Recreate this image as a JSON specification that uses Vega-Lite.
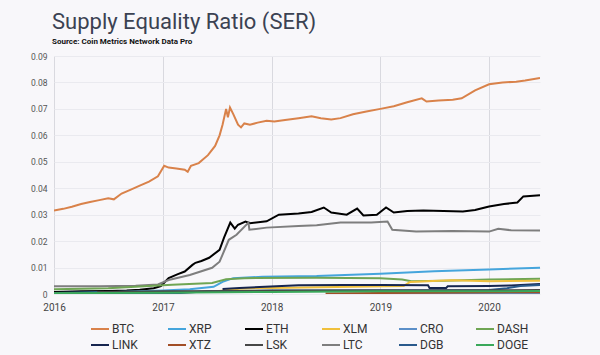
{
  "$schema": "https://vega.github.io/schema/vega-lite/v6.json",
  "autosize": {"type": "none"},
  "width": 486,
  "height": 238,
  "padding": {"left": 54, "top": 56, "right": 60, "bottom": 61},
  "background": "#f8f7fa",
  "title": {
    "text": "Supply Equality Ratio (SER)",
    "subtitle": "Source: Coin Metrics Network Data Pro",
    "anchor": "start",
    "frame": "group",
    "dx": -2,
    "offset": 5,
    "font": "Roboto",
    "fontSize": 22,
    "fontWeight": "normal",
    "color": "#3b4252",
    "subtitleFont": "Roboto",
    "subtitleFontSize": 8,
    "subtitleFontWeight": "bold",
    "subtitleColor": "#111111",
    "subtitlePadding": 4
  },
  "config": {
    "view": {"stroke": null},
    "axis": {"domain": false, "ticks": false, "labelFont": "Roboto", "labelColor": "#555555", "title": null}
  },
  "data": {"values": [
    {"coin":"BTC","date":"2016-01-01","v":0.0316},{"coin":"BTC","date":"2016-02-01","v":0.0322},{"coin":"BTC","date":"2016-03-01","v":0.0330},{"coin":"BTC","date":"2016-04-01","v":0.0340},{"coin":"BTC","date":"2016-05-01","v":0.0348},{"coin":"BTC","date":"2016-06-01","v":0.0355},{"coin":"BTC","date":"2016-07-01","v":0.0362},{"coin":"BTC","date":"2016-07-20","v":0.0358},{"coin":"BTC","date":"2016-08-15","v":0.0380},{"coin":"BTC","date":"2016-09-15","v":0.0395},{"coin":"BTC","date":"2016-10-15","v":0.0410},{"coin":"BTC","date":"2016-11-15","v":0.0425},{"coin":"BTC","date":"2016-12-15","v":0.0445},{"coin":"BTC","date":"2017-01-05","v":0.0485},{"coin":"BTC","date":"2017-01-20","v":0.0478},{"coin":"BTC","date":"2017-02-15","v":0.0475},{"coin":"BTC","date":"2017-03-15","v":0.0470},{"coin":"BTC","date":"2017-03-25","v":0.0462},{"coin":"BTC","date":"2017-04-05","v":0.0485},{"coin":"BTC","date":"2017-05-01","v":0.0495},{"coin":"BTC","date":"2017-06-01","v":0.0525},{"coin":"BTC","date":"2017-06-25","v":0.0560},{"coin":"BTC","date":"2017-07-10","v":0.0600},{"coin":"BTC","date":"2017-07-20","v":0.0640},{"coin":"BTC","date":"2017-08-01","v":0.0700},{"coin":"BTC","date":"2017-08-07","v":0.0668},{"coin":"BTC","date":"2017-08-14","v":0.0705},{"coin":"BTC","date":"2017-08-25","v":0.0680},{"coin":"BTC","date":"2017-09-10","v":0.0640},{"coin":"BTC","date":"2017-09-20","v":0.0630},{"coin":"BTC","date":"2017-10-01","v":0.0645},{"coin":"BTC","date":"2017-10-20","v":0.0640},{"coin":"BTC","date":"2017-11-15","v":0.0648},{"coin":"BTC","date":"2017-12-15","v":0.0655},{"coin":"BTC","date":"2018-01-10","v":0.0652},{"coin":"BTC","date":"2018-02-15","v":0.0658},{"coin":"BTC","date":"2018-04-01","v":0.0665},{"coin":"BTC","date":"2018-05-15","v":0.0672},{"coin":"BTC","date":"2018-06-15","v":0.0665},{"coin":"BTC","date":"2018-07-20","v":0.0660},{"coin":"BTC","date":"2018-08-20","v":0.0665},{"coin":"BTC","date":"2018-10-01","v":0.0680},{"coin":"BTC","date":"2018-11-15","v":0.0690},{"coin":"BTC","date":"2019-01-01","v":0.0700},{"coin":"BTC","date":"2019-02-15","v":0.0710},{"coin":"BTC","date":"2019-04-01","v":0.0725},{"coin":"BTC","date":"2019-05-20","v":0.0740},{"coin":"BTC","date":"2019-06-05","v":0.0728},{"coin":"BTC","date":"2019-07-15","v":0.0732},{"coin":"BTC","date":"2019-09-01","v":0.0735},{"coin":"BTC","date":"2019-10-01","v":0.0740},{"coin":"BTC","date":"2019-11-15","v":0.0770},{"coin":"BTC","date":"2020-01-01","v":0.0793},{"coin":"BTC","date":"2020-02-15","v":0.0800},{"coin":"BTC","date":"2020-04-01","v":0.0803},{"coin":"BTC","date":"2020-05-01","v":0.0807},{"coin":"BTC","date":"2020-06-20","v":0.0817},
    {"coin":"ETH","date":"2016-01-01","v":0.0008},{"coin":"ETH","date":"2016-04-01","v":0.0010},{"coin":"ETH","date":"2016-07-01","v":0.0011},{"coin":"ETH","date":"2016-09-01","v":0.0013},{"coin":"ETH","date":"2016-10-15","v":0.0016},{"coin":"ETH","date":"2016-12-01","v":0.0022},{"coin":"ETH","date":"2016-12-25","v":0.0030},{"coin":"ETH","date":"2017-01-20","v":0.0060},{"coin":"ETH","date":"2017-02-20","v":0.0075},{"coin":"ETH","date":"2017-03-15","v":0.0085},{"coin":"ETH","date":"2017-04-10","v":0.0110},{"coin":"ETH","date":"2017-04-20","v":0.0118},{"coin":"ETH","date":"2017-05-10","v":0.0125},{"coin":"ETH","date":"2017-06-05","v":0.0137},{"coin":"ETH","date":"2017-07-10","v":0.0167},{"coin":"ETH","date":"2017-07-25","v":0.0213},{"coin":"ETH","date":"2017-08-15","v":0.0270},{"coin":"ETH","date":"2017-08-30","v":0.0247},{"coin":"ETH","date":"2017-09-10","v":0.0262},{"coin":"ETH","date":"2017-10-05","v":0.0274},{"coin":"ETH","date":"2017-10-20","v":0.0268},{"coin":"ETH","date":"2017-12-15","v":0.0275},{"coin":"ETH","date":"2018-01-25","v":0.0300},{"coin":"ETH","date":"2018-04-01","v":0.0304},{"coin":"ETH","date":"2018-05-15","v":0.0310},{"coin":"ETH","date":"2018-06-25","v":0.0327},{"coin":"ETH","date":"2018-07-20","v":0.0308},{"coin":"ETH","date":"2018-09-10","v":0.0300},{"coin":"ETH","date":"2018-10-15","v":0.0323},{"coin":"ETH","date":"2018-11-05","v":0.0297},{"coin":"ETH","date":"2018-12-20","v":0.0300},{"coin":"ETH","date":"2019-01-20","v":0.0327},{"coin":"ETH","date":"2019-02-15","v":0.0308},{"coin":"ETH","date":"2019-04-01","v":0.0314},{"coin":"ETH","date":"2019-05-25","v":0.0316},{"coin":"ETH","date":"2019-08-01","v":0.0314},{"coin":"ETH","date":"2019-10-05","v":0.0312},{"coin":"ETH","date":"2019-11-15","v":0.0318},{"coin":"ETH","date":"2020-01-01","v":0.0331},{"coin":"ETH","date":"2020-02-20","v":0.0340},{"coin":"ETH","date":"2020-04-05","v":0.0346},{"coin":"ETH","date":"2020-04-25","v":0.0369},{"coin":"ETH","date":"2020-06-20","v":0.0373},
    {"coin":"LTC","date":"2016-01-01","v":0.0029},{"coin":"LTC","date":"2016-06-01","v":0.0029},{"coin":"LTC","date":"2016-10-01","v":0.0031},{"coin":"LTC","date":"2016-12-15","v":0.0036},{"coin":"LTC","date":"2017-01-20","v":0.0053},{"coin":"LTC","date":"2017-04-01","v":0.0072},{"coin":"LTC","date":"2017-06-15","v":0.0099},{"coin":"LTC","date":"2017-07-10","v":0.0122},{"coin":"LTC","date":"2017-08-10","v":0.0205},{"coin":"LTC","date":"2017-09-05","v":0.0224},{"coin":"LTC","date":"2017-10-15","v":0.0270},{"coin":"LTC","date":"2017-10-18","v":0.0243},{"coin":"LTC","date":"2017-12-15","v":0.0251},{"coin":"LTC","date":"2018-04-01","v":0.0257},{"coin":"LTC","date":"2018-06-01","v":0.0260},{"coin":"LTC","date":"2018-08-20","v":0.0270},{"coin":"LTC","date":"2018-12-01","v":0.0270},{"coin":"LTC","date":"2019-01-25","v":0.0274},{"coin":"LTC","date":"2019-02-10","v":0.0243},{"coin":"LTC","date":"2019-05-01","v":0.0236},{"coin":"LTC","date":"2019-09-01","v":0.0238},{"coin":"LTC","date":"2020-01-01","v":0.0236},{"coin":"LTC","date":"2020-02-01","v":0.0247},{"coin":"LTC","date":"2020-03-15","v":0.0241},{"coin":"LTC","date":"2020-06-20","v":0.0240},
    {"coin":"XRP","date":"2016-01-01","v":0.0004},{"coin":"XRP","date":"2016-07-01","v":0.0007},{"coin":"XRP","date":"2017-01-01","v":0.0013},{"coin":"XRP","date":"2017-04-01","v":0.0018},{"coin":"XRP","date":"2017-06-20","v":0.0027},{"coin":"XRP","date":"2017-07-20","v":0.0046},{"coin":"XRP","date":"2017-08-25","v":0.0060},{"coin":"XRP","date":"2017-12-01","v":0.0065},{"coin":"XRP","date":"2018-06-01","v":0.0068},{"coin":"XRP","date":"2019-01-01","v":0.0077},{"coin":"XRP","date":"2019-07-01","v":0.0086},{"coin":"XRP","date":"2020-01-01","v":0.0093},{"coin":"XRP","date":"2020-06-20","v":0.0099},
    {"coin":"DASH","date":"2016-01-01","v":0.0018},{"coin":"DASH","date":"2016-07-01","v":0.0022},{"coin":"DASH","date":"2016-11-15","v":0.0030},{"coin":"DASH","date":"2017-02-01","v":0.0035},{"coin":"DASH","date":"2017-06-15","v":0.0042},{"coin":"DASH","date":"2017-08-01","v":0.0056},{"coin":"DASH","date":"2017-10-01","v":0.0060},{"coin":"DASH","date":"2018-06-01","v":0.0061},{"coin":"DASH","date":"2019-01-01","v":0.0060},{"coin":"DASH","date":"2019-03-15","v":0.0055},{"coin":"DASH","date":"2019-04-15","v":0.0048},{"coin":"DASH","date":"2019-08-01","v":0.0050},{"coin":"DASH","date":"2020-01-01","v":0.0055},{"coin":"DASH","date":"2020-06-20","v":0.0058},
    {"coin":"XLM","date":"2016-01-01","v":0.0002},{"coin":"XLM","date":"2017-01-01","v":0.0004},{"coin":"XLM","date":"2017-07-01","v":0.0010},{"coin":"XLM","date":"2017-09-15","v":0.0020},{"coin":"XLM","date":"2018-01-01","v":0.0023},{"coin":"XLM","date":"2018-10-01","v":0.0027},{"coin":"XLM","date":"2019-03-20","v":0.0030},{"coin":"XLM","date":"2019-04-10","v":0.0045},{"coin":"XLM","date":"2019-07-15","v":0.0050},{"coin":"XLM","date":"2019-09-01","v":0.0052},{"coin":"XLM","date":"2020-01-01","v":0.0048},{"coin":"XLM","date":"2020-06-20","v":0.0050},
    {"coin":"LINK","date":"2017-07-20","v":0.0019},{"coin":"LINK","date":"2017-09-15","v":0.0023},{"coin":"LINK","date":"2018-04-01","v":0.0033},{"coin":"LINK","date":"2018-09-01","v":0.0034},{"coin":"LINK","date":"2019-01-01","v":0.0034},{"coin":"LINK","date":"2019-06-10","v":0.0033},{"coin":"LINK","date":"2019-06-15","v":0.0023},{"coin":"LINK","date":"2019-08-10","v":0.0023},{"coin":"LINK","date":"2019-08-15","v":0.0029},{"coin":"LINK","date":"2020-01-01","v":0.0030},{"coin":"LINK","date":"2020-03-15","v":0.0032},{"coin":"LINK","date":"2020-06-20","v":0.0038},
    {"coin":"DGB","date":"2016-01-01","v":0.0002},{"coin":"DGB","date":"2017-03-01","v":0.0004},{"coin":"DGB","date":"2017-06-01","v":0.0010},{"coin":"DGB","date":"2018-01-01","v":0.0013},{"coin":"DGB","date":"2019-01-01","v":0.0014},{"coin":"DGB","date":"2020-01-01","v":0.0015},{"coin":"DGB","date":"2020-03-01","v":0.0022},{"coin":"DGB","date":"2020-04-15","v":0.0030},{"coin":"DGB","date":"2020-06-20","v":0.0034},
    {"coin":"CRO","date":"2018-12-01","v":0.0002},{"coin":"CRO","date":"2019-06-01","v":0.0003},{"coin":"CRO","date":"2020-06-20","v":0.0004},
    {"coin":"XTZ","date":"2018-07-01","v":0.0002},{"coin":"XTZ","date":"2019-01-01","v":0.0004},{"coin":"XTZ","date":"2020-06-20","v":0.0007},
    {"coin":"LSK","date":"2016-05-25","v":0.0008},{"coin":"LSK","date":"2017-01-01","v":0.0010},{"coin":"LSK","date":"2018-01-01","v":0.0012},{"coin":"LSK","date":"2019-01-01","v":0.0013},{"coin":"LSK","date":"2020-06-20","v":0.0015},
    {"coin":"DOGE","date":"2016-01-01","v":0.0003},{"coin":"DOGE","date":"2017-01-01","v":0.0005},{"coin":"DOGE","date":"2018-01-01","v":0.0008},{"coin":"DOGE","date":"2019-01-01","v":0.0010},{"coin":"DOGE","date":"2020-06-20","v":0.0011}
  ]},
  "mark": {"type": "line", "strokeWidth": 2, "clip": true},
  "encoding": {
    "x": {
      "field": "date", "type": "temporal",
      "scale": {"type": "utc", "domain": ["2016-01-01", "2020-06-20"]},
      "axis": {
        "values": [{"year": 2016, "utc": true}, {"year": 2017, "utc": true}, {"year": 2018, "utc": true}, {"year": 2019, "utc": true}, {"year": 2020, "utc": true}],
        "format": "%Y", "labelFontSize": 10, "labelPadding": 8, "labelFlush": false, "gridColor": "#d9d9df", "labelColor": "#444444"
      }
    },
    "y": {
      "field": "v", "type": "quantitative",
      "scale": {"domain": [0, 0.09], "nice": false},
      "axis": {"values": [0, 0.01, 0.02, 0.03, 0.04, 0.05, 0.06, 0.07, 0.08, 0.09], "format": "~g", "labelFontSize": 8.5, "labelPadding": 7, "gridColor": "#eaeaef"}
    },
    "color": {
      "field": "coin", "type": "nominal",
      "scale": {
        "domain": ["BTC", "XRP", "ETH", "XLM", "CRO", "DASH", "LINK", "XTZ", "LSK", "LTC", "DGB", "DOGE"],
        "range": ["#d9824a", "#45a5dc", "#000000", "#f0c03c", "#5b8fc8", "#6fa553", "#16254f", "#a24e26", "#474747", "#7e7e7e", "#2a5a8c", "#3aa85a"]
      },
      "legend": {
        "title": null, "orient": "none", "legendX": 36, "legendY": 263,
        "columns": 6, "direction": "horizontal", "gridAlign": "all",
        "symbolType": "stroke", "symbolSize": 324, "symbolStrokeWidth": 2,
        "labelFont": "Roboto", "labelFontSize": 12, "labelColor": "#333333", "labelOffset": 2,
        "columnPadding": 20, "rowPadding": -2
      }
    }
  }
}
